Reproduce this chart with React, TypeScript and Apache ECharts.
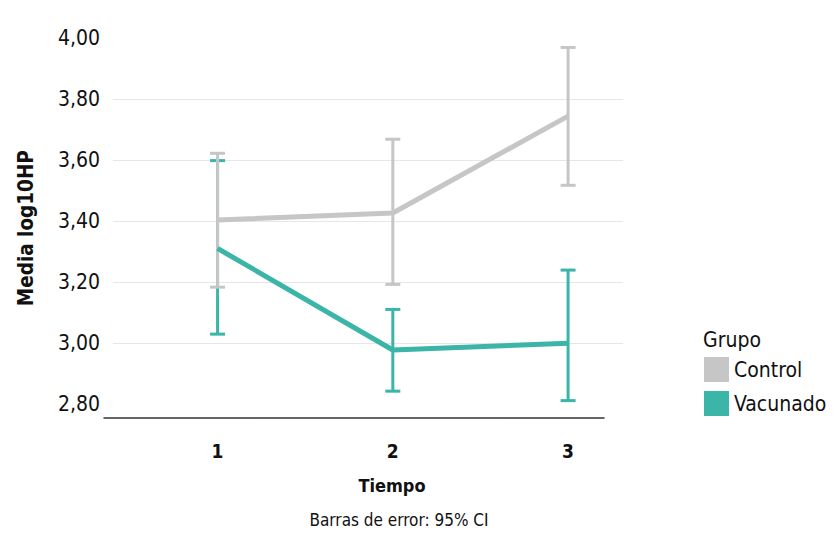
import { useEffect, useRef } from "react";
import * as echarts from "echarts";

const timepoints = [1, 2, 3];
const controlMean = [3.404, 3.427, 3.745];
const controlLow = [3.184, 3.193, 3.518];
const controlHigh = [3.623, 3.669, 3.97];
const vacMean = [3.311, 2.978, 3.0];
const vacLow = [3.03, 2.843, 2.812];
const vacHigh = [3.599, 3.111, 3.24];
const yTickLabels = [2.8, 3.0, 3.2, 3.4, 3.6, 3.8, 4.0];
const seriesNames = ["Control", "Vacunado"];
const legendTitle = "Grupo";
const xTitle = "Tiempo";
const yTitle = "Media log10HP";
const footnote = "Barras de error: 95% CI";

const GREY = "#c6c6c6";
const TEAL = "#3bb5a7";
const FONT = '"DejaVu Sans Condensed", "Liberation Sans Narrow", "Noto Sans", sans-serif';

const errRender = (color: string) => (_params: any, api: any) => {
  const x = api.value(0);
  const pLo = api.coord([x, api.value(1)]);
  const pHi = api.coord([x, api.value(2)]);
  const hw = 7.5;
  const style = { stroke: color, lineWidth: 3, fill: "none" };
  return {
    type: "group",
    children: [
      { type: "line", shape: { x1: pLo[0], y1: pLo[1], x2: pHi[0], y2: pHi[1] }, style },
      { type: "line", shape: { x1: pLo[0] - hw, y1: pLo[1], x2: pLo[0] + hw, y2: pLo[1] }, style },
      { type: "line", shape: { x1: pHi[0] - hw, y1: pHi[1], x2: pHi[0] + hw, y2: pHi[1] }, style },
    ],
  };
};

export default function App() {
  const ref = useRef<HTMLDivElement>(null);
  useEffect(() => {
    if (!ref.current) return;
    const chart = echarts.init(ref.current, undefined, { renderer: "svg" });
    const ctrlLine = timepoints.map((t, i) => [t, controlMean[i]]);
    const vacLine = timepoints.map((t, i) => [t, vacMean[i]]);
    const ctrlErr = timepoints.map((t, i) => [t, controlLow[i], controlHigh[i]]);
    const vacErr = timepoints.map((t, i) => [t, vacLow[i], vacHigh[i]]);
    chart.setOption({
      animation: false,
      textStyle: { fontFamily: FONT },
      grid: [
        { left: 104, right: 234, top: 38.3, bottom: 124 },
        { left: 113, right: 215, top: 99.3, bottom: 198.7 },
      ],
      xAxis: [
        {
          type: "value",
          gridIndex: 0,
          min: 0.352,
          max: 3.205,
          axisLine: { show: true, lineStyle: { color: "#333", width: 1.5 } },
          axisTick: { show: false },
          splitLine: { show: false },
          axisLabel: {
            customValues: timepoints,
            fontSize: 19,
            fontWeight: "bold",
            color: "#111",
            fontFamily: FONT,
            margin: 23,
          },
        },
        {
          type: "value",
          gridIndex: 1,
          min: 0,
          max: 1,
          show: false,
        },
      ],
      yAxis: [
        {
          type: "value",
          gridIndex: 0,
          min: 2.755,
          max: 4.0,
          axisLine: { show: false },
          axisTick: { show: false },
          splitLine: { show: false },
          axisLabel: {
            customValues: yTickLabels,
            fontSize: 21,
            color: "#111",
            fontFamily: FONT,
            margin: 4,
            formatter: (v: number) => v.toFixed(2).replace(".", ","),
          },
          name: yTitle,
          nameLocation: "middle",
          nameRotate: 90,
          nameGap: 68,
          nameTextStyle: { fontSize: 20.5, fontWeight: "bold", color: "#111", fontFamily: FONT },
        },
        {
          type: "value",
          gridIndex: 1,
          min: 3.0,
          max: 3.8,
          interval: 0.2,
          axisLine: { show: false },
          axisTick: { show: false },
          axisLabel: { show: false },
          splitLine: { show: true, lineStyle: { color: "#e6e6e6", width: 1 } },
        },
      ],
      legend: {
        data: seriesNames,
        orient: "vertical",
        left: 704,
        top: 357,
        padding: 0,
        icon: "rect",
        itemWidth: 25,
        itemHeight: 25,
        itemGap: 9,
        textStyle: { fontSize: 21, color: "#111", fontFamily: FONT },
      },
      graphic: [
        {
          type: "text",
          x: 703,
          y: 340,
          style: {
            text: legendTitle,
            fontSize: 21,
            fill: "#111",
            fontFamily: FONT,
            align: "left",
            verticalAlign: "middle",
          },
        },
        {
          type: "text",
          x: 392,
          y: 485,
          style: {
            text: xTitle,
            fontSize: 18,
            fontWeight: "bold",
            fill: "#111",
            fontFamily: FONT,
            align: "center",
            verticalAlign: "middle",
          },
        },
        {
          type: "text",
          x: 399,
          y: 520,
          style: {
            text: footnote,
            fontSize: 17,
            fill: "#111",
            fontFamily: FONT,
            align: "center",
            verticalAlign: "middle",
          },
        },
      ],
      series: [
        {
          name: "VacunadoErr",
          type: "custom",
          xAxisIndex: 0,
          yAxisIndex: 0,
          renderItem: errRender(TEAL),
          data: vacErr,
          z: 2,
        },
        {
          name: "ControlErr",
          type: "custom",
          xAxisIndex: 0,
          yAxisIndex: 0,
          renderItem: errRender(GREY),
          data: ctrlErr,
          z: 3,
        },
        {
          name: "Control",
          type: "line",
          xAxisIndex: 0,
          yAxisIndex: 0,
          data: ctrlLine,
          showSymbol: false,
          symbol: "none",
          lineStyle: { color: GREY, width: 5 },
          itemStyle: { color: GREY },
          z: 4,
        },
        {
          name: "Vacunado",
          type: "line",
          xAxisIndex: 0,
          yAxisIndex: 0,
          data: vacLine,
          showSymbol: false,
          symbol: "none",
          lineStyle: { color: TEAL, width: 5 },
          itemStyle: { color: TEAL },
          z: 5,
        },
      ],
    });
    return () => chart.dispose();
  }, []);
  return (
    <div
      ref={ref}
      style={{ position: "fixed", left: 0, top: 0, width: 838, height: 542, background: "#fff" }}
    />
  );
}
